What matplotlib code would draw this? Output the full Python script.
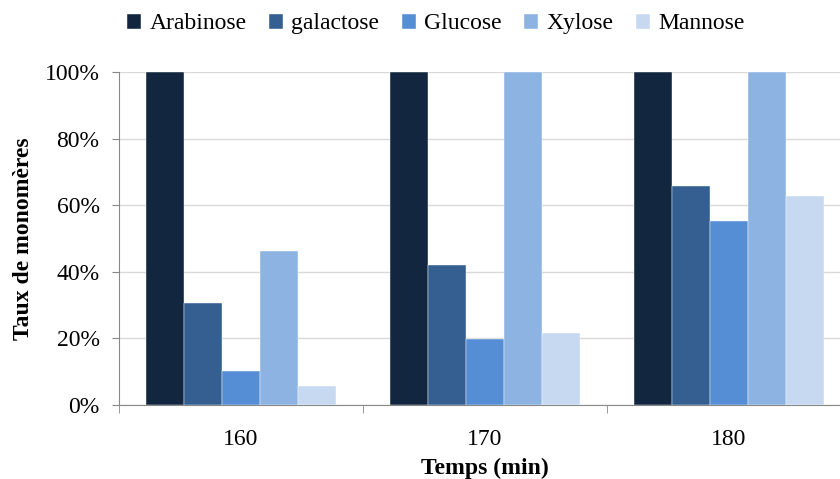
import matplotlib
matplotlib.use("Agg")
import matplotlib.pyplot as plt
import numpy as np

categories = ["160", "170", "180"]
series_names = ["Arabinose", "galactose", "Glucose", "Xylose", "Mannose"]
arabinose = [100, 100, 100]
galactose = [30.5, 42.0, 65.8]
glucose = [10.2, 19.7, 55.3]
xylose = [46.2, 100, 100]
mannose = [5.6, 21.6, 62.8]
colors = ["#12263f", "#355f91", "#558ed5", "#8db3e2", "#c6d9f1"]

plt.rcParams['font.family'] = ['Liberation Serif', 'DejaVu Serif']

fig = plt.figure(figsize=(8.4, 4.79), dpi=100)
ax = fig.add_axes([119/840, 1-405/479, 732/840, 333/479])

data = [arabinose, galactose, glucose, xylose, mannose]
x = np.arange(len(categories))
w = 0.156
for i, (name, vals, c) in enumerate(zip(series_names, data, colors)):
    ax.bar(x + (i - 2) * w, vals, width=w, color=c, label=name, zorder=3,
           edgecolor='white', linewidth=0.3)

fs = 17
ax.set_xlim(-0.5, 2.5)
ax.set_ylim(0, 100)
ax.set_yticks([0, 20, 40, 60, 80, 100])
ax.set_yticklabels([f"{v}%" for v in [0, 20, 40, 60, 80, 100]], fontsize=fs)
ax.set_xticks(x)
ax.set_xticklabels(categories, fontsize=fs)
ax.tick_params(axis='x', which='major', length=0, pad=17)
ax.set_xticks([-0.5, 0.5, 1.5, 2.5], minor=True)
ax.tick_params(axis='x', which='minor', length=6, color='#888888', direction='out')
ax.tick_params(axis='y', length=5, color='#888888', direction='out', pad=9)
ax.grid(axis='y', color='#d9d9d9', linewidth=1, zorder=0)
for s in ['top', 'right']:
    ax.spines[s].set_visible(False)
for s in ['left', 'bottom']:
    ax.spines[s].set_color('#888888')
ax.set_ylabel("Taux de monomères", fontsize=fs, fontweight='bold', labelpad=8)
ax.set_xlabel("Temps (min)", fontsize=fs, fontweight='bold', labelpad=6)

ax.legend(loc='upper center', bbox_to_anchor=(0.433, 1.24), ncol=5, frameon=False,
          fontsize=fs, handlelength=0.6, handleheight=0.6, columnspacing=0.95, handletextpad=0.35)

fig.savefig("out.png", dpi=100)
